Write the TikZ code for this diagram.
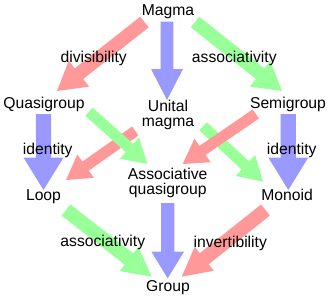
\documentclass[tikz,border=0pt]{standalone}
\usepackage{fontspec}
\setmainfont{Liberation Sans}
\usetikzlibrary{calc}
\definecolor{ared}{HTML}{FF9999}
\definecolor{agreen}{HTML}{99FF99}
\definecolor{ablue}{HTML}{9999FF}
% #1 tail, #2 tip, #3 half shaft width, #4 half head width, #5 head length, #6 style
\newcommand\fatarrow[6]{%
  \coordinate (fb) at ($(#2)!#5!(#1)$);
  \fill[#6] ($(#1)!#3!90:(#2)$) -- ($(fb)!#3!-90:(#1)$) -- ($(fb)!#4!-90:(#1)$)
    -- (#2) -- ($(fb)!#4!90:(#1)$) -- ($(fb)!#3!90:(#1)$) -- ($(#1)!#3!-90:(#2)$) -- cycle;}
\begin{document}
\begin{tikzpicture}[x=1pt,y=-1pt,
  lbl/.style={inner sep=0pt, anchor=base, align=center,
    font={\fontsize{15.7pt}{15pt}\selectfont}},
  redarr/.style={fill=ared},
  greenarr/.style={fill=agreen},
  bluearr/.style={fill=ablue}]
\useasboundingbox (0,0) rectangle (330,300);
% arrow end points
\coordinate (mq1) at (144.5,22);  \coordinate (mq2) at (57,91);
\coordinate (mu1) at (167,21.5);  \coordinate (mu2) at (167,100);
\coordinate (ms1) at (195,22);    \coordinate (ms2) at (282,91);
\coordinate (ql1) at (43.5,114);  \coordinate (ql2) at (43.5,190);
\coordinate (sm1) at (288.3,114); \coordinate (sm2) at (288.3,190);
\coordinate (qa1) at (89,111.7);  \coordinate (qa2) at (147.3,164);
\coordinate (ul1) at (135.3,131); \coordinate (ul2) at (66,180);
\coordinate (sa1) at (255.8,114); \coordinate (sa2) at (182.7,164);
\coordinate (um1) at (203,126.3); \coordinate (um2) at (263,181.7);
\coordinate (ag1) at (167.7,203); \coordinate (ag2) at (167.7,278.3);
\coordinate (lg1) at (66,210);    \coordinate (lg2) at (151.7,276.7);
\coordinate (og1) at (265.5,210); \coordinate (og2) at (181.7,276.7);
% arrows
\fatarrow{mq1}{mq2}{6.8pt}{16.5pt}{28pt}{redarr}
\fatarrow{mu1}{mu2}{6.3pt}{16pt}{31pt}{bluearr}
\fatarrow{ms1}{ms2}{6.8pt}{16.5pt}{28pt}{greenarr}
\fatarrow{ql1}{ql2}{7.6pt}{20pt}{32.5pt}{bluearr}
\fatarrow{sm1}{sm2}{7.6pt}{20pt}{32.5pt}{bluearr}
\fatarrow{ul1}{ul2}{5.5pt}{14.3pt}{24pt}{redarr}
\fatarrow{qa1}{qa2}{5.5pt}{14.3pt}{24pt}{greenarr}
\fatarrow{um1}{um2}{5.5pt}{14.3pt}{24pt}{greenarr}
\fatarrow{sa1}{sa2}{5.5pt}{14.3pt}{24pt}{redarr}
\fatarrow{ag1}{ag2}{6.6pt}{16.3pt}{26.6pt}{bluearr}
\fatarrow{lg1}{lg2}{7.1pt}{15.3pt}{28.8pt}{greenarr}
\fatarrow{og1}{og2}{7.1pt}{15.3pt}{28.8pt}{redarr}
% texts
\node[lbl] (magma) at (168,15) {Magma};
\node[lbl] (div) at (93.7,62.3) {divisibility};
\node[lbl] (assoc1) at (234.3,62.3) {associativity};
\node[lbl] (quasi) at (44,108.3) {Quasigroup};
\node[lbl] (semi) at (288,108.3) {Semigroup};
\node[lbl] (unital) at (168,126.7) {Unital\\magma};
\node[lbl] (id1) at (47.7,154.3) {identity};
\node[lbl] (id2) at (291.7,154.3) {identity};
\node[lbl] (aq) at (167.7,194.3) {Associative\\quasigroup};
\node[lbl] (loop) at (43.5,200.7) {Loop};
\node[lbl] (monoid) at (287,200.7) {Monoid};
\node[lbl] (assoc2) at (102.8,246.7) {associativity};
\node[lbl] (inv) at (230.3,247) {invertibility};
\node[lbl] (group) at (168,291) {Group};
\end{tikzpicture}
\end{document}
